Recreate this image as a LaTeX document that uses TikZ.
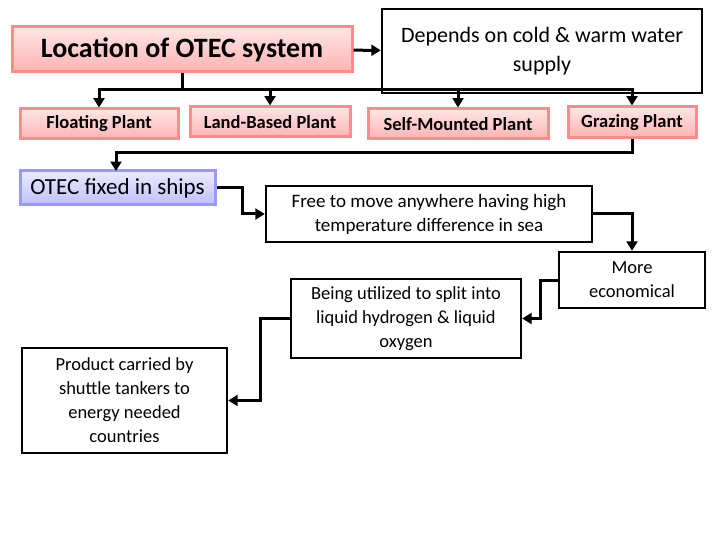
\documentclass[tikz,border=0pt]{standalone}
\usepackage{fontspec}
\setmainfont{Carlito}
\usetikzlibrary{positioning, arrows.meta}
\tikzset{pinkbox/.style={
    rectangle,
    draw=red!45,
    top color=red!10,
    bottom color=red!30,
    inner sep=0pt,
    font=\bfseries
}}
\tikzset{bluebox/.style={
    rectangle,
    draw=blue!40,
    top color=blue!8,
    bottom color=blue!25,
    inner sep=0pt
}}
\tikzset{plainbox/.style={
    rectangle,
    draw,
    line width=2.4pt,
    fill=white,
    inner sep=0pt,
    align=center
}}

\begin{document}
\begin{tikzpicture}[x=1pt, y=-1pt,
    >={Triangle[scale=0.8]}, line width=3pt,
    every path/.style={->}
]
    \useasboundingbox (0,0) rectangle (720,540);
    % top row
    \node (loc) [pinkbox, minimum width=340pt, minimum height=45pt, font=\fontsize{28}{34}\selectfont\bfseries] at (182,49.5) {Location of OTEC system};
    \node (dep) [plainbox, minimum width=320pt, minimum height=84pt, font=\fontsize{22}{29}\selectfont] at (542,51) {Depends on cold \& warm water\\supply};
    % plants
    \node (flo) [pinkbox, minimum width=158pt, minimum height=30pt, font=\fontsize{18.5}{22}\selectfont\bfseries] at (99,124) {Floating Plant};
    \node (lan) [pinkbox, minimum width=160pt, minimum height=30pt, font=\fontsize{18.5}{22}\selectfont\bfseries] at (270,122) {Land-Based Plant};
    \node (sel) [pinkbox, minimum width=180pt, minimum height=30pt, font=\fontsize{18.5}{22}\selectfont\bfseries] at (458,124) {Self-Mounted Plant};
    \node (gra) [pinkbox, minimum width=128pt, minimum height=31pt, font=\fontsize{18.5}{22}\selectfont\bfseries] at (632,122.5) {Grazing Plant};
    % lower part
    \node (shi) [bluebox, minimum width=195pt, minimum height=34pt, font=\fontsize{23}{28}\selectfont] at (117.5,188) {OTEC fixed in ships};
    \node (fre) [plainbox, minimum width=326pt, minimum height=56pt, font=\fontsize{19}{24}\selectfont] at (429,214) {Free to move anywhere having high\\temperature difference in sea};
    \node (mor) [plainbox, minimum width=146pt, minimum height=56pt, font=\fontsize{18.5}{24}\selectfont] at (632,280) {More\\economical};
    \node (bei) [plainbox, minimum width=230pt, minimum height=79pt, font=\fontsize{18.5}{24}\selectfont] at (406,318.5) {Being utilized to split into\\liquid hydrogen \& liquid\\oxygen};
    \node (pro) [plainbox, minimum width=205pt, minimum height=105pt, font=\fontsize{18.5}{24}\selectfont] at (124.5,400.5) {Product carried by\\shuttle tankers to\\energy needed\\countries};
    % connectors
    \coordinate (bar) at (182,90);
    \draw (loc) -- (dep);
    \draw[-] (loc) -- (bar);
    \draw (bar) -| (flo);
    \draw (bar) -| (lan);
    \draw (bar) -| (sel);
    \draw (bar) -| (gra);
    \draw (gra.south) |- (116,153) -- (116,171);
    \draw (shi) -| (242,214) -- (fre);
    \draw (fre) -| (mor);
    \draw (mor) -| (540,318.5) -- (bei);
    \draw (bei) -| (260,400.5) -- (pro);
\end{tikzpicture}
\end{document}
